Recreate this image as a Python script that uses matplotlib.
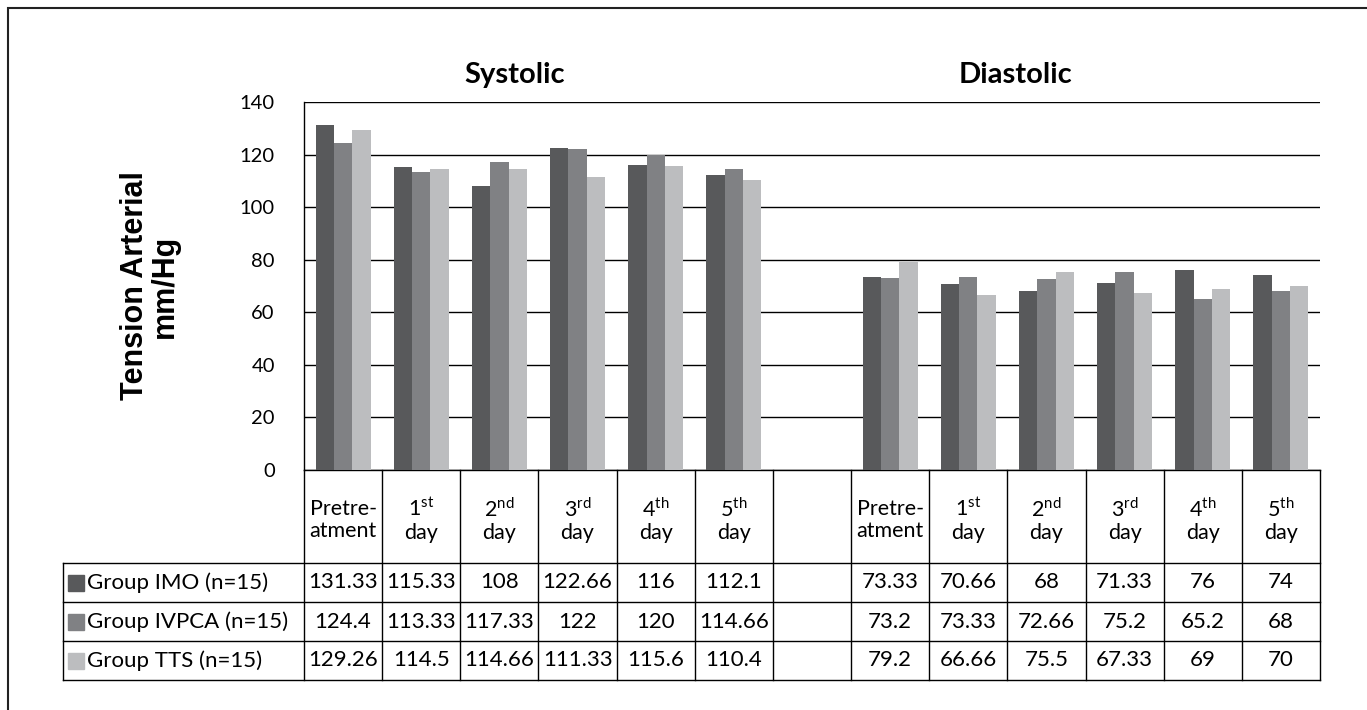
import numpy as np
import matplotlib.pyplot as plt
from matplotlib.patches import Rectangle

plt.rcParams['font.family'] = ['Lato', 'DejaVu Sans']
plt.rcParams['mathtext.fontset'] = 'custom'
plt.rcParams['mathtext.rm'] = 'Lato'

# data from the table
headers = ['Pretre-\natment', '1$^{\\mathrm{st}}$\nday', '2$^{\\mathrm{nd}}$\nday',
           '3$^{\\mathrm{rd}}$\nday', '4$^{\\mathrm{th}}$\nday', '5$^{\\mathrm{th}}$\nday']
groups = ['Group IMO (n=15)', 'Group IVPCA (n=15)', 'Group TTS (n=15)']
systolic_imo = [131.33, 115.33, 108, 122.66, 116, 112.1]
systolic_ivpca = [124.4, 113.33, 117.33, 122, 120, 114.66]
systolic_tts = [129.26, 114.5, 114.66, 111.33, 115.6, 110.4]
diastolic_imo = [73.33, 70.66, 68, 71.33, 76, 74]
diastolic_ivpca = [73.2, 73.33, 72.66, 75.2, 65.2, 68]
diastolic_tts = [79.2, 66.66, 75.5, 67.33, 69, 70]
yticks = [0, 20, 40, 60, 80, 100, 120, 140]

colors = ['#58595b', '#808184', '#bcbdbf']
series = [systolic_imo + [None] + diastolic_imo,
          systolic_ivpca + [None] + diastolic_ivpca,
          systolic_tts + [None] + diastolic_tts]
cols = headers + [''] + headers
n = len(cols)

W, H = 1367, 710
fig = plt.figure(figsize=(W / 100, H / 100), dpi=100)
ax = fig.add_axes([304 / W, 240 / H, (1320 - 304) / W, (470 - 102) / H])

x = np.arange(n)
bw = 0.234
for k, vals in enumerate(series):
    xs = [xi + (k - 1) * bw for xi, v in zip(x, vals) if v is not None]
    ys = [v for v in vals if v is not None]
    ax.bar(xs, ys, width=bw, color=colors[k], zorder=3)

ax.set_xlim(-0.5, n - 0.5)
ax.set_ylim(0, 140)
ax.set_yticks(yticks)
ax.set_yticklabels([str(t) for t in yticks], fontsize=14.5)
ax.tick_params(axis='y', length=0, pad=21)
ax.set_xticks([])
ax.grid(axis='y', color='black', lw=1, zorder=1)
for s in ['top', 'right']:
    ax.spines[s].set_visible(False)
ax.spines['left'].set_linewidth(1)
ax.spines['bottom'].set_linewidth(1)

ax.set_ylabel('Tension Arterial\nmm/Hg', fontsize=22, fontweight='bold',
              family=['Liberation Sans'], linespacing=1.0)
ax.yaxis.set_label_coords(-0.122, 0.5)

ax.text(2.19, 1.073, 'Systolic', transform=ax.get_xaxis_transform(),
        ha='center', va='center', fontsize=21, fontweight='bold')
ax.text(8.61, 1.073, 'Diastolic', transform=ax.get_xaxis_transform(),
        ha='center', va='center', fontsize=21, fontweight='bold')

# table below the axis, in data units (pixel rows converted)
def yv(py):
    return (470 - py) / 368 * 140

row_lines = [563, 602, 641, 680]
slot_px = (1320 - 304) / n
left_x = -0.5 - (304 - 63) / slot_px
lk = dict(color='black', lw=1, clip_on=False, zorder=5)
for i in range(n + 1):
    ax.plot([i - 0.5, i - 0.5], [0, yv(680)], **lk)
ax.plot([left_x, left_x], [yv(563), yv(680)], **lk)
for py in row_lines:
    ax.plot([left_x, n - 0.5], [yv(py), yv(py)], **lk)

for i, c in enumerate(cols):
    ax.text(i, yv(520), c, ha='center', va='center', fontsize=15.5,
            linespacing=1.15, clip_on=False)

for r, (g, vals) in enumerate(zip(groups, series)):
    cy = yv((row_lines[r] + row_lines[r + 1]) / 2)
    sq_x = left_x + 5 / slot_px
    ax.add_patch(Rectangle((sq_x, cy - 8 / 368 * 140), 16 / slot_px, 16 / 368 * 140,
                           color=colors[r], clip_on=False, zorder=5))
    ax.text(left_x + 24 / slot_px, cy, g, ha='left', va='center', fontsize=16,
            clip_on=False)
    for i, v in enumerate(vals):
        if v is not None:
            ax.text(i, cy, f'{v:g}', ha='center', va='center', fontsize=16,
                    clip_on=False)

# outer frame
fig.add_artist(Rectangle((8 / W, -0.1), 1.2, (H - 8) / H + 0.1, transform=fig.transFigure,
                         fill=False, ec='#222222', lw=1.5))

fig.savefig('out.png', dpi=100)
